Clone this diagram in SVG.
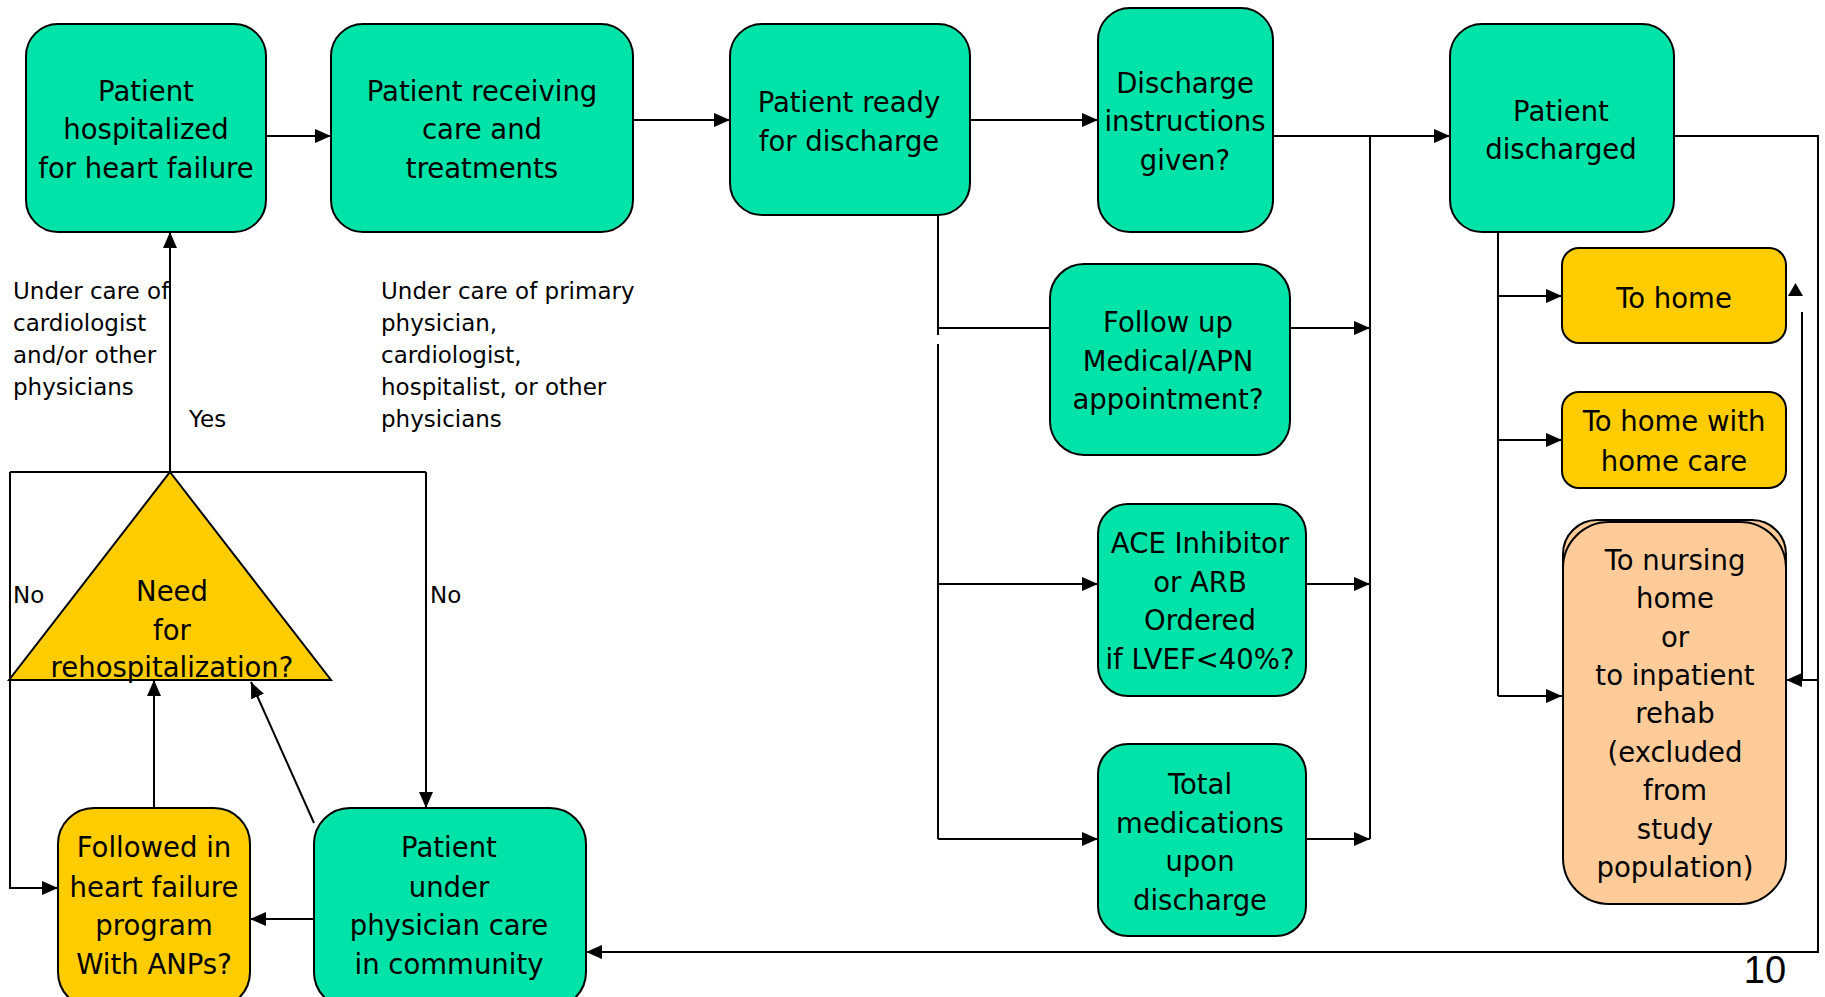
<svg xmlns="http://www.w3.org/2000/svg" width="1825" height="997" viewBox="0 0 1825 997">
<style>
.g{fill:#00E3A8;stroke:#000;stroke-width:2}
.y{fill:#FFCC00;stroke:#000;stroke-width:2}
.p{fill:#FFCC99;stroke:#000;stroke-width:2}
.t{font-family:"DejaVu Sans",Verdana,sans-serif;font-size:27.5px;fill:#000;text-anchor:middle}
.s{font-family:"DejaVu Sans",Verdana,sans-serif;font-size:23px;fill:#000}
.c{fill:none;stroke:#000;stroke-width:2}
</style>
<defs>
<marker id="ah" viewBox="0 0 16 14" refX="16" refY="7" markerWidth="16" markerHeight="14" markerUnits="userSpaceOnUse" orient="auto"><path d="M0,0 L16,7 L0,14 z" fill="#000"/></marker>
</defs>
<rect width="1825" height="997" fill="#fff"/>

<g id="connectors">
<line class="c" x1="266" y1="136" x2="331" y2="136" marker-end="url(#ah)"/>
<line class="c" x1="633" y1="120" x2="730" y2="120" marker-end="url(#ah)"/>
<line class="c" x1="970" y1="120" x2="1098" y2="120" marker-end="url(#ah)"/>
<line class="c" x1="1273" y1="136" x2="1450" y2="136" marker-end="url(#ah)"/>
<line class="c" x1="1370" y1="136" x2="1370" y2="839"/>
<line class="c" x1="938" y1="215" x2="938" y2="335"/>
<line class="c" x1="938" y1="344" x2="938" y2="839"/>
<line class="c" x1="938" y1="328" x2="1050" y2="328"/>
<line class="c" x1="938" y1="584" x2="1098" y2="584" marker-end="url(#ah)"/>
<line class="c" x1="938" y1="839" x2="1098" y2="839" marker-end="url(#ah)"/>
<line class="c" x1="1290" y1="328" x2="1370" y2="328" marker-end="url(#ah)"/>
<line class="c" x1="1306" y1="584" x2="1370" y2="584" marker-end="url(#ah)"/>
<line class="c" x1="1306" y1="839" x2="1370" y2="839" marker-end="url(#ah)"/>
<line class="c" x1="1498" y1="232" x2="1498" y2="696"/>
<line class="c" x1="1498" y1="296" x2="1562" y2="296" marker-end="url(#ah)"/>
<line class="c" x1="1498" y1="440" x2="1562" y2="440" marker-end="url(#ah)"/>
<line class="c" x1="1498" y1="696" x2="1562" y2="696" marker-end="url(#ah)"/>
<polyline class="c" points="1674,136 1818,136 1818,952 586,952" marker-end="url(#ah)"/>
<line class="c" x1="1818" y1="680" x2="1786" y2="680" marker-end="url(#ah)"/>
<line class="c" x1="1802" y1="312" x2="1802" y2="680"/>
<polygon points="1788,296 1803,296 1795.5,283" fill="#000"/>
<line class="c" x1="170" y1="472" x2="170" y2="232" marker-end="url(#ah)"/>
<line class="c" x1="10" y1="472" x2="426" y2="472"/>
<polyline class="c" points="10,472 10,888 58,888" marker-end="url(#ah)"/>
<line class="c" x1="426" y1="472" x2="426" y2="808" marker-end="url(#ah)"/>
<line class="c" x1="154" y1="808" x2="154" y2="680" marker-end="url(#ah)"/>
<line class="c" x1="314" y1="823" x2="251" y2="682" marker-end="url(#ah)"/>
<line class="c" x1="314" y1="919" x2="250" y2="919" marker-end="url(#ah)"/>
</g>

<g id="n1"><rect class="g" x="26" y="24" width="240" height="208" rx="32"/>
<text class="t" x="146" y="101">Patient</text><text class="t" x="146" y="139">hospitalized</text><text class="t" x="146" y="178">for heart failure</text></g>
<g id="n2"><rect class="g" x="331" y="24" width="302" height="208" rx="32"/>
<text class="t" x="482" y="101">Patient receiving</text><text class="t" x="482" y="139">care and</text><text class="t" x="482" y="178">treatments</text></g>
<g id="n3"><rect class="g" x="730" y="24" width="240" height="191" rx="32"/>
<text class="t" x="849" y="112">Patient ready</text><text class="t" x="849" y="151">for discharge</text></g>
<g id="n4"><rect class="g" x="1098" y="8" width="175" height="224" rx="32"/>
<text class="t" x="1185" y="93">Discharge</text><text class="t" x="1185" y="131">instructions</text><text class="t" x="1185" y="170">given?</text></g>
<g id="n5"><rect class="g" x="1450" y="24" width="224" height="208" rx="32"/>
<text class="t" x="1561" y="121">Patient</text><text class="t" x="1561" y="159">discharged</text></g>
<g id="n6"><rect class="g" x="1050" y="264" width="240" height="191" rx="34"/>
<text class="t" x="1168" y="332">Follow up</text><text class="t" x="1168" y="371">Medical/APN</text><text class="t" x="1168" y="409">appointment?</text></g>
<g id="n7"><rect class="g" x="1098" y="504" width="208" height="192" rx="30"/>
<text class="t" x="1200" y="553">ACE Inhibitor</text><text class="t" x="1200" y="592">or ARB</text><text class="t" x="1200" y="630">Ordered</text><text class="t" x="1200" y="669">if LVEF&lt;40%?</text></g>
<g id="n8"><rect class="g" x="1098" y="744" width="208" height="192" rx="30"/>
<text class="t" x="1200" y="794">Total</text><text class="t" x="1200" y="833">medications</text><text class="t" x="1200" y="871">upon</text><text class="t" x="1200" y="910">discharge</text></g>
<g id="n9"><rect class="y" x="1562" y="248" width="224" height="95" rx="17"/>
<text class="t" x="1674" y="308">To home</text></g>
<g id="n10"><rect class="y" x="1562" y="392" width="224" height="96" rx="17"/>
<text class="t" x="1674" y="431">To home with</text><text class="t" x="1674" y="471">home care</text></g>
<g id="n11"><rect class="p" x="1563" y="520" width="223" height="120" rx="34"/>
<rect class="p" x="1563" y="522" width="223" height="382" rx="46"/>
<text class="t" x="1675" y="570">To nursing</text><text class="t" x="1675" y="608">home</text><text class="t" x="1675" y="647">or</text><text class="t" x="1675" y="685">to inpatient</text><text class="t" x="1675" y="723">rehab</text><text class="t" x="1675" y="762">(excluded</text><text class="t" x="1675" y="800">from</text><text class="t" x="1675" y="839">study</text><text class="t" x="1675" y="877">population)</text></g>
<g id="n12"><rect class="y" x="58" y="808" width="192" height="200" rx="36"/>
<text class="t" x="154" y="857">Followed in</text><text class="t" x="154" y="897">heart failure</text><text class="t" x="154" y="935">program</text><text class="t" x="154" y="974">With ANPs?</text></g>
<g id="n13"><rect class="g" x="314" y="808" width="272" height="200" rx="36"/>
<text class="t" x="449" y="857">Patient</text><text class="t" x="449" y="897">under</text><text class="t" x="449" y="935">physician care</text><text class="t" x="449" y="974">in community</text></g>
<g id="n14"><polygon points="170,472 331,680 9,680" fill="#FFCC00" stroke="#000" stroke-width="2"/>
<text class="t" x="172" y="601">Need</text><text class="t" x="172" y="640">for</text><text class="t" x="172" y="677">rehospitalization?</text></g>

<g id="labels">
<text class="s" x="13" y="299">Under care of</text>
<text class="s" x="13" y="331">cardiologist</text>
<text class="s" x="13" y="363">and/or other</text>
<text class="s" x="13" y="395">physicians</text>
<text class="s" x="189" y="427">Yes</text>
<text class="s" x="381" y="299">Under care of primary</text>
<text class="s" x="381" y="331">physician,</text>
<text class="s" x="381" y="363">cardiologist,</text>
<text class="s" x="381" y="395">hospitalist, or other</text>
<text class="s" x="381" y="427">physicians</text>
<text class="s" x="13" y="603">No</text>
<text class="s" x="430" y="603">No</text>
<text x="1765" y="983" font-family="Liberation Sans,Arial,sans-serif" font-size="38" text-anchor="middle">10</text>
</g>
</svg>
